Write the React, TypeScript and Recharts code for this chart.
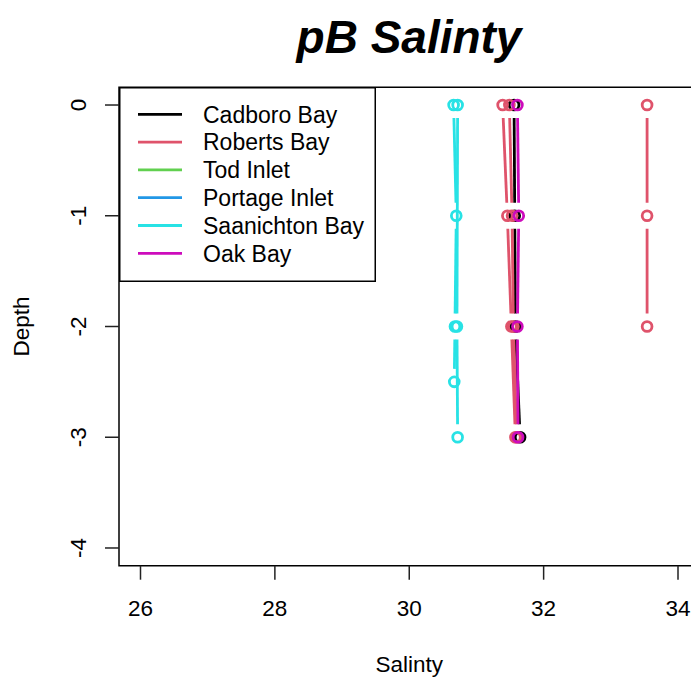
import React from 'react';
import { ScatterChart, Scatter, XAxis, YAxis, ReferenceArea, Legend } from 'recharts';

const sites = ['Cadboro Bay', 'Roberts Bay', 'Tod Inlet', 'Portage Inlet', 'Saanichton Bay', 'Oak Bay'];
const siteColors = ['#000000', '#DF536B', '#61D04F', '#2297E6', '#28E2E5', '#CD0BBC'];

const xTicks = [26, 28, 30, 32, 34];
const yTicks = [0, -1, -2, -3, -4];

// one entry per sampled profile (site index, depths, salinities)
const profileSite = [0, 1, 1, 1, 4, 4, 5];
const profileDepth = [
    [0, -1, -2, -3],
    [0, -1, -2],
    [0, -1, -2, -3],
    [0, -1, -2, -3],
    [0, -1, -2, -2.5],
    [0, -2, -3],
    [0, -1, -2, -3],
];
const profileSal = [
    [31.56, 31.57, 31.58, 31.65],
    [33.54, 33.54, 33.54],
    [31.39, 31.46, 31.52, 31.58],
    [31.49, 31.53, 31.55, 31.6],
    [30.66, 30.7, 30.68, 30.67],
    [30.72, 30.71, 30.72],
    [31.61, 31.63, 31.61, 31.62],
];

const FONT = '"Liberation Sans", Arial, Helvetica, sans-serif';
const GAP = 13;
const LW = 2.8;

const gapLine = (color: string) => (props: any) => {
    const pts = props.points || [];
    const segs = [];
    for (let i = 0; i < pts.length - 1; i++) {
        const a = pts[i];
        const b = pts[i + 1];
        const dx = b.x - a.x;
        const dy = b.y - a.y;
        const len = Math.hypot(dx, dy);
        if (len <= 2 * GAP) continue;
        const ux = dx / len;
        const uy = dy / len;
        segs.push(
            <line
                key={i}
                x1={a.x + ux * GAP}
                y1={a.y + uy * GAP}
                x2={b.x - ux * GAP}
                y2={b.y - uy * GAP}
                stroke={color}
                strokeWidth={LW}
            />
        );
    }
    return <g>{segs}</g>;
};

const openCircle = (color: string) => (props: any) => (
    <circle cx={props.cx} cy={props.cy} r={4.9} fill="none" stroke={color} strokeWidth={LW} />
);

function LegendBox() {
    return (
        <svg width={257} height={195} style={{ display: 'block' }}>
            <rect x={0.75} y={0.75} width={255.5} height={193.5} fill="#fff" stroke="#000" strokeWidth={1.5} />
            {sites.map((name, i) => {
                const y = 27.3 + i * 27.8;
                return (
                    <g key={name}>
                        <line x1={19} x2={63} y1={y} y2={y} stroke={siteColors[i]} strokeWidth={LW} />
                        <text x={84} y={y + 8.2} fontFamily={FONT} fontSize={23} fill="#000">
                            {name}
                        </text>
                    </g>
                );
            })}
        </svg>
    );
}

export default function App() {
    return (
        <div style={{ position: 'absolute', left: 0, top: 0, width: 691, height: 679, overflow: 'hidden', background: '#fff' }}>
            <div
                style={{
                    position: 'absolute',
                    left: 0,
                    width: 818,
                    top: 10,
                    textAlign: 'center',
                    fontFamily: FONT,
                    fontWeight: 'bold',
                    fontStyle: 'italic',
                    fontSize: 46,
                    lineHeight: '54px',
                }}
            >
                pB Salinty
            </div>
            <ScatterChart width={720} height={679} margin={{ top: 87.3, right: 20.5, bottom: 0, left: 0 }}>
                <XAxis
                    type="number"
                    dataKey="s"
                    domain={[25.68, 34.32]}
                    ticks={xTicks}
                    allowDataOverflow
                    height={113.3}
                    axisLine={false}
                    tickSize={14}
                    tickMargin={0}
                    tickLine={{ stroke: '#222', strokeWidth: 1.5 }}
                    tick={(p: any) => (
                        <text x={p.x} y={p.y + 36.3} textAnchor="middle" fontFamily={FONT} fontSize={22.5} fill="#000">
                            {p.payload.value}
                        </text>
                    )}
                    label={{
                        content: (lp: any) => {
                            const vb = lp.viewBox;
                            return (
                                <text x={vb.x + vb.width / 2} y={671.7} textAnchor="middle" fontFamily={FONT} fontSize={22.5} fill="#000">
                                    Salinty
                                </text>
                            );
                        },
                    }}
                />
                <YAxis
                    type="number"
                    dataKey="d"
                    domain={[-4.16, 0.16]}
                    ticks={yTicks}
                    allowDataOverflow
                    width={119}
                    axisLine={false}
                    tickSize={14}
                    tickMargin={0}
                    tickLine={{ stroke: '#222', strokeWidth: 1.5 }}
                    tick={(p: any) => (
                        <text
                            x={p.x - 19}
                            y={p.y}
                            transform={`rotate(-90, ${p.x - 19}, ${p.y})`}
                            textAnchor="middle"
                            fontFamily={FONT}
                            fontSize={22.5}
                            fill="#000"
                        >
                            {p.payload.value}
                        </text>
                    )}
                    label={{
                        content: (lp: any) => {
                            const vb = lp.viewBox;
                            const cy = vb.y + vb.height / 2;
                            return (
                                <text x={29} y={cy} transform={`rotate(-90, 29, ${cy})`} textAnchor="middle" fontFamily={FONT} fontSize={22.5} fill="#000">
                                    Depth
                                </text>
                            );
                        },
                    }}
                />
                <ReferenceArea
                    x1={25.68}
                    x2={34.32}
                    y1={-4.16}
                    y2={0.16}
                    fill="none"
                    fillOpacity={0}
                    stroke="#000"
                    strokeWidth={1.5}
                    ifOverflow="visible"
                />
                {profileSal.map((sal, k) => {
                    const color = siteColors[profileSite[k]];
                    const data = sal.map((s, i) => ({ s, d: profileDepth[k][i] }));
                    return (
                        <Scatter
                            key={k}
                            name={sites[profileSite[k]]}
                            data={data}
                            line={gapLine(color)}
                            shape={openCircle(color)}
                            fill={color}
                            isAnimationActive={false}
                        />
                    );
                })}
                <Legend
                    layout="vertical"
                    align="center"
                    verticalAlign="middle"
                    wrapperStyle={{ left: 119, top: 87, width: 257, height: 195 }}
                    content={() => <LegendBox />}
                />
            </ScatterChart>
        </div>
    );
}
